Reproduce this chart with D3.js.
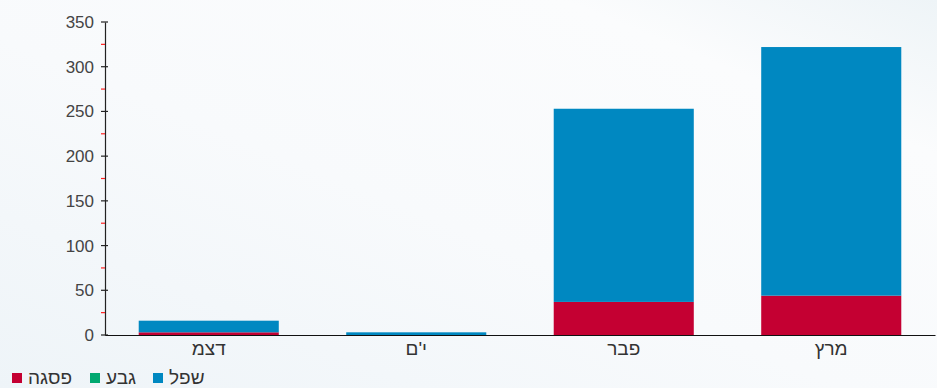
<!DOCTYPE html>
<html><head><meta charset="utf-8">
<script src="https://cdn.jsdelivr.net/npm/d3@7"></script>
<style>
html,body{margin:0;padding:0;background:#f5f8fa;}
svg{display:block;}
text{font-family:"Liberation Sans",Arial,sans-serif;}
</style></head>
<body>
<script>
const categories = ["דצמ", "י'ם", "פבר", "מרץ"];
const seriesNames = ["פסגה", "גבע", "שפל"];
const peakValues = [3, 0, 37, 44];
const ridgeValues = [0, 0, 0, 0];
const lowValues = [13, 3, 216, 278];
const yTicks = [0, 50, 100, 150, 200, 250, 300, 350];
const yMinorTicks = [25, 75, 125, 175, 225, 275, 325];
const colors = ["#c40032", "#00a870", "#0088c1"];

const W = 937, H = 388;
const svg = d3.select("body").append("svg").attr("width", W).attr("height", H);
const defs = svg.append("defs");
const g1 = defs.append("linearGradient").attr("id","bg").attr("x1","0").attr("y1","1").attr("x2","1").attr("y2","0");
g1.append("stop").attr("offset","0").attr("stop-color","#eef4f8");
g1.append("stop").attr("offset","0.45").attr("stop-color","#f8fafc");
g1.append("stop").attr("offset","0.8").attr("stop-color","#fbfcfd");
g1.append("stop").attr("offset","1").attr("stop-color","#eef4f7");
svg.append("rect").attr("width", W).attr("height", H).attr("fill", "url(#bg)");

const x = d3.scaleBand().domain(categories).range([105, 935]).paddingInner(0.325).paddingOuter(0.1625);
const y = d3.scaleLinear().domain([0, 350]).range([335, 22]);

const rows = categories.map((c, i) => ({cat: c, "פסגה": peakValues[i], "גבע": ridgeValues[i], "שפל": lowValues[i]}));
const stacked = d3.stack().keys(seriesNames)(rows);

svg.append("g").selectAll("g").data(stacked).join("g")
  .attr("fill", (d, i) => colors[i])
  .selectAll("rect").data(d => d).join("rect")
  .attr("x", d => x(d.data.cat))
  .attr("width", x.bandwidth())
  .attr("y", d => y(d[1]))
  .attr("height", d => y(d[0]) - y(d[1]));

// y axis
const yAxis = svg.append("g").attr("transform", "translate(105,0)")
  .call(d3.axisLeft(y).tickValues(yTicks).tickSize(0).tickPadding(10));
yAxis.select(".domain").attr("stroke", "#222").attr("stroke-width", 1.2);
yAxis.selectAll("text").attr("font-size", 17).attr("fill", "#444").attr("x", -11);
svg.append("g").selectAll("line").data(yTicks).join("line")
  .attr("x1", 101).attr("x2", 108)
  .attr("y1", d => y(d)).attr("y2", d => y(d))
  .attr("stroke", "#222").attr("stroke-width", 1.2);
svg.append("g").selectAll("line").data(yMinorTicks).join("line")
  .attr("x1", 101).attr("x2", 105)
  .attr("y1", d => y(d)).attr("y2", d => y(d))
  .attr("stroke", "#ff2020").attr("stroke-width", 1.2);

// x axis
const xAxis = svg.append("g").attr("transform", "translate(0,335)")
  .call(d3.axisBottom(x).tickSize(0).tickPadding(7));
xAxis.select(".domain").attr("stroke", "#111").attr("stroke-width", 1.2);
xAxis.selectAll("text").attr("font-size", 19).attr("fill", "#333");

// legend
const legendX = [12, 90, 153];
const lg = svg.append("g").selectAll("g").data(seriesNames).join("g")
  .attr("transform", (d, i) => `translate(${legendX[i]},0)`);
lg.append("rect").attr("x", 0).attr("y", 373).attr("width", 10).attr("height", 10)
  .attr("fill", (d, i) => colors[i]);
lg.append("text").attr("x", 16).attr("y", 384).attr("font-size", 19).attr("fill", "#333")
  .attr("text-anchor", "start").text(d => d);
</script>
</body></html>
